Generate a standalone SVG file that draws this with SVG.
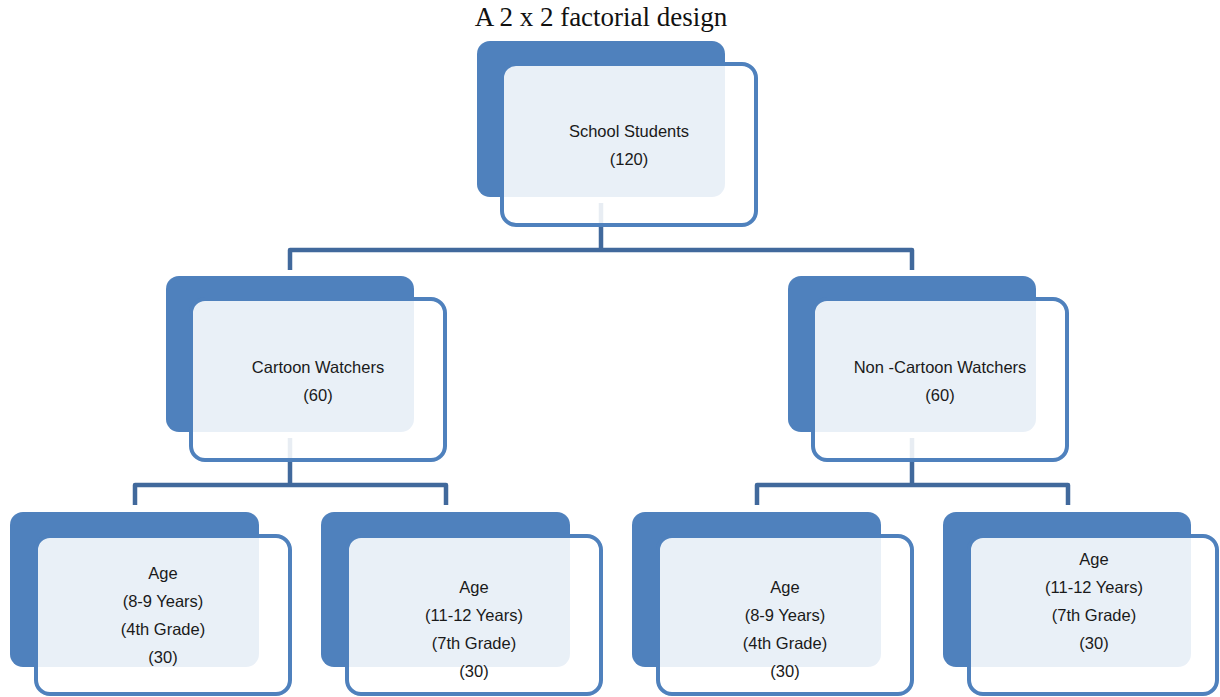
<svg xmlns="http://www.w3.org/2000/svg" width="1220" height="697" viewBox="0 0 1220 697">
<style>
.bg{fill:#4f81bd}
.fr{fill:#ffffff;fill-opacity:0.88;stroke:#4f81bd;stroke-width:4}
.cn{fill:none;stroke:#41699c;stroke-width:4.5;stroke-linejoin:round}
.t{font-family:"Liberation Sans",Arial,sans-serif;font-size:16.5px;fill:#1a1a1a;text-anchor:middle}
.title{font-family:"Liberation Serif","Times New Roman",serif;font-size:27px;fill:#111;text-anchor:middle}
</style>
<rect width="1220" height="697" fill="#ffffff"/>
<text class="title" x="601" y="26">A 2 x 2 factorial design</text>
<g id="connectors">
<path class="cn" d="M601 203 V250 M290 270 V250 H912 V270"/>
<path class="cn" d="M290 438 V485 M135 505 V485 H446 V505"/>
<path class="cn" d="M912 438 V485 M757 505 V485 H1068 V505"/>
</g>
<g id="node-school">
<rect class="bg" x="477" y="41" width="248" height="156" rx="13"/>
<rect class="fr" x="502" y="64" width="254" height="161" rx="14"/>
<text class="t" x="629" y="137">School Students</text>
<text class="t" x="629" y="165">(120)</text>
</g>
<g id="node-cartoon">
<rect class="bg" x="166" y="276" width="248" height="156" rx="13"/>
<rect class="fr" x="191" y="299" width="254" height="161" rx="14"/>
<text class="t" x="318" y="373">Cartoon Watchers</text>
<text class="t" x="318" y="401">(60)</text>
</g>
<g id="node-noncartoon">
<rect class="bg" x="788" y="276" width="248" height="156" rx="13"/>
<rect class="fr" x="813" y="299" width="254" height="161" rx="14"/>
<text class="t" x="940" y="373">Non -Cartoon Watchers</text>
<text class="t" x="940" y="401">(60)</text>
</g>
<g id="node-c-8-9">
<rect class="bg" x="10" y="512" width="249" height="155" rx="13"/>
<rect class="fr" x="36" y="536" width="254" height="158" rx="14"/>
<text class="t" x="163" y="579">Age</text>
<text class="t" x="163" y="607">(8-9 Years)</text>
<text class="t" x="163" y="635">(4th Grade)</text>
<text class="t" x="163" y="663">(30)</text>
</g>
<g id="node-c-11-12">
<rect class="bg" x="321" y="512" width="249" height="155" rx="13"/>
<rect class="fr" x="347" y="536" width="254" height="158" rx="14"/>
<text class="t" x="474" y="593">Age</text>
<text class="t" x="474" y="621">(11-12 Years)</text>
<text class="t" x="474" y="649">(7th Grade)</text>
<text class="t" x="474" y="677">(30)</text>
</g>
<g id="node-n-8-9">
<rect class="bg" x="632" y="512" width="249" height="155" rx="13"/>
<rect class="fr" x="658" y="536" width="254" height="158" rx="14"/>
<text class="t" x="785" y="593">Age</text>
<text class="t" x="785" y="621">(8-9 Years)</text>
<text class="t" x="785" y="649">(4th Grade)</text>
<text class="t" x="785" y="677">(30)</text>
</g>
<g id="node-n-11-12">
<rect class="bg" x="943" y="512" width="248" height="155" rx="13"/>
<rect class="fr" x="969" y="536" width="248" height="158" rx="14"/>
<text class="t" x="1094" y="565">Age</text>
<text class="t" x="1094" y="593">(11-12 Years)</text>
<text class="t" x="1094" y="621">(7th Grade)</text>
<text class="t" x="1094" y="649">(30)</text>
</g>
</svg>
